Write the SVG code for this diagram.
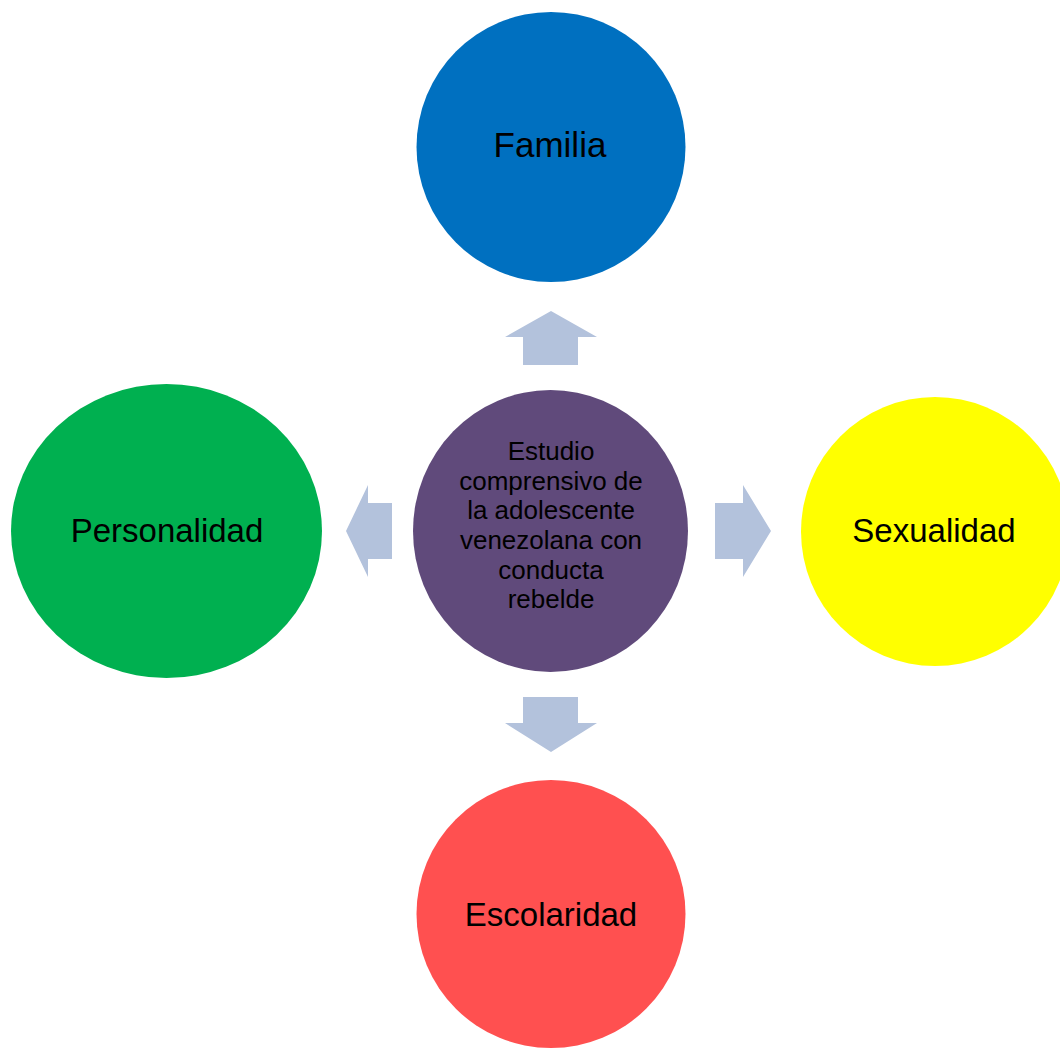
<svg xmlns="http://www.w3.org/2000/svg" width="1060" height="1048" viewBox="0 0 1060 1048">
<style>
.lbl{font-family:"Liberation Sans",Arial,sans-serif;font-size:33px;fill:#000;text-anchor:middle}
.ctr{font-family:"Liberation Sans",Arial,sans-serif;font-size:26px;fill:#000;text-anchor:middle}
.arr{fill:#B3C2DC}
</style>
<rect width="1060" height="1048" fill="#fff"/>
<g id="connectors">
<polygon class="arr" points="551,311 597,337 578,337 578,365 523,365 523,337 505,337"/>
<polygon class="arr" points="346,531 368,485 368,503 392,503 392,559 368,559 368,577"/>
<polygon class="arr" points="771,531 743,485 743,503 715,503 715,559 743,559 743,577"/>
<polygon class="arr" points="551,752 597,723 578,723 578,697 523,697 523,723 505,723"/>
</g>
<g id="familia">
<ellipse cx="551" cy="147" rx="134.5" ry="135" fill="#0070C0"/>
<text class="lbl" x="550" y="157" style="font-size:35px">Familia</text>
</g>
<g id="centro">
<ellipse cx="550.5" cy="531" rx="137.5" ry="141" fill="#604A7B"/>
<text class="ctr" x="551" y="460">Estudio</text>
<text class="ctr" x="551" y="490">comprensivo de</text>
<text class="ctr" x="551" y="519">la adolescente</text>
<text class="ctr" x="551" y="549">venezolana con</text>
<text class="ctr" x="551" y="579">conducta</text>
<text class="ctr" x="551" y="608">rebelde</text>
</g>
<g id="personalidad">
<ellipse cx="166.5" cy="531" rx="155.5" ry="147" fill="#00B050"/>
<text class="lbl" x="167" y="542">Personalidad</text>
</g>
<g id="sexualidad">
<ellipse cx="935" cy="531.5" rx="134" ry="134.5" fill="#FFFF00"/>
<text class="lbl" x="934" y="542">Sexualidad</text>
</g>
<g id="escolaridad">
<ellipse cx="551" cy="914" rx="134.5" ry="134" fill="#FF5050"/>
<text class="lbl" x="551" y="926">Escolaridad</text>
</g>
</svg>
